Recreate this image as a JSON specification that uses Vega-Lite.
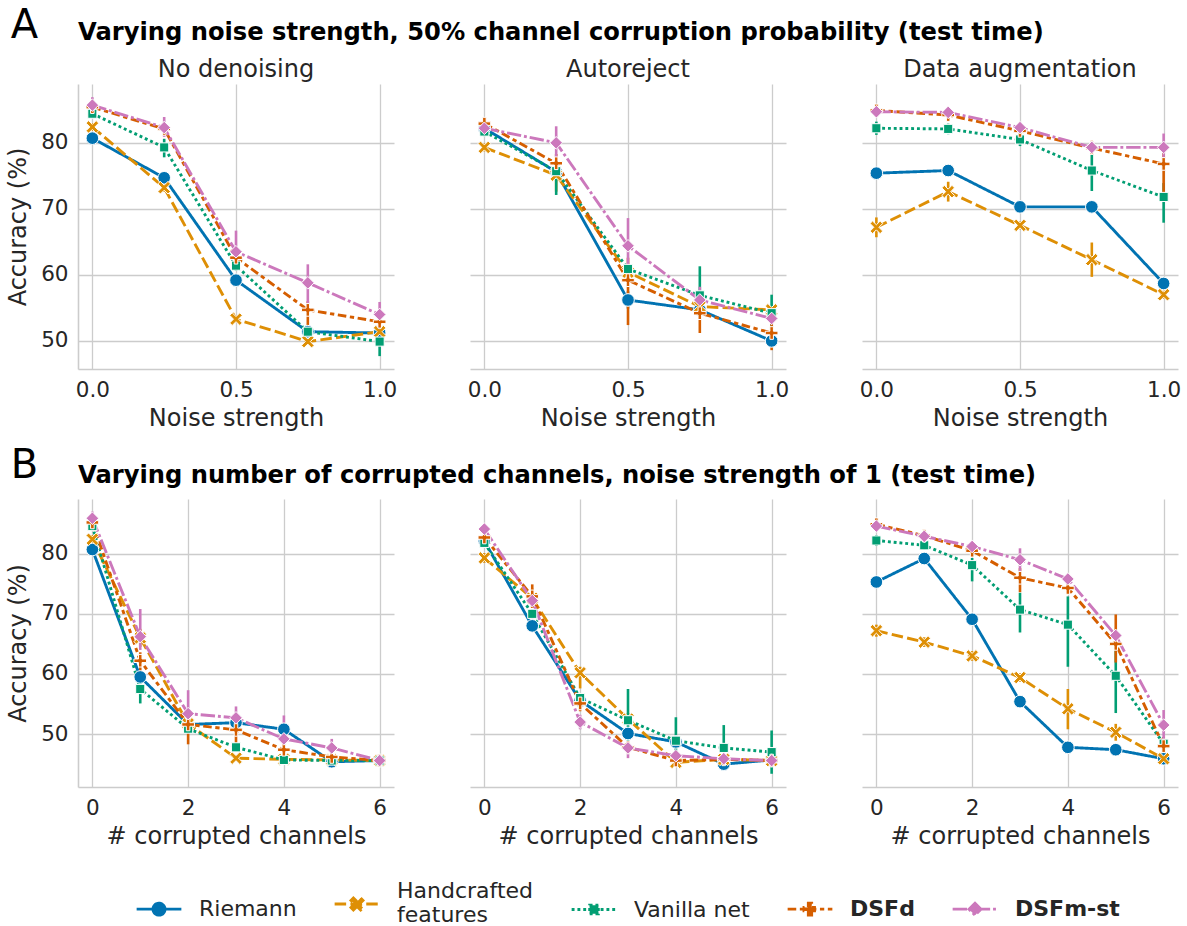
{
"$schema":"https://vega.github.io/schema/vega-lite/v6.json",
"padding":{"left":6,"top":5,"right":5,"bottom":5},
"spacing":14,
"config":{
 "font":"DejaVu Sans",
 "view":{"stroke":null},
 "axis":{"grid":true,"gridColor":"#cccccc","gridWidth":1.3,"domainColor":"#cccccc","domainWidth":1.6,"ticks":false,"labelFontSize":21.5,"labelColor":"#262626","titleFontSize":24,"titleColor":"#262626","titleFontWeight":"normal","labelPadding":10,"labelFont":"DejaVu Sans","titleFont":"DejaVu Sans"},
 "axisX":{"titlePadding":6},
 "axisY":{"titlePadding":10},
 "header":{"labelFont":"DejaVu Sans"},
 "title":{"font":"DejaVu Sans"},
 "legend":{"labelFont":"DejaVu Sans","titleFont":"DejaVu Sans","layout":{"bottom":{"anchor":"middle"}}}
},
"datasets":{
"a":[
{"panel":"No denoising","model":"Riemann","x":0,"acc":80.7,"lo":80.2,"hi":81.2},
{"panel":"No denoising","model":"Riemann","x":0.25,"acc":74.7,"lo":74.2,"hi":75.2},
{"panel":"No denoising","model":"Riemann","x":0.5,"acc":59.2,"lo":58.6,"hi":59.8},
{"panel":"No denoising","model":"Riemann","x":0.75,"acc":51.4,"lo":51.0,"hi":51.9},
{"panel":"No denoising","model":"Riemann","x":1,"acc":51.2,"lo":50.8,"hi":51.6},
{"panel":"No denoising","model":"Handcrafted features","x":0,"acc":82.4,"lo":81.8,"hi":83.0},
{"panel":"No denoising","model":"Handcrafted features","x":0.25,"acc":73.2,"lo":72.6,"hi":73.8},
{"panel":"No denoising","model":"Handcrafted features","x":0.5,"acc":53.3,"lo":52.8,"hi":53.8},
{"panel":"No denoising","model":"Handcrafted features","x":0.75,"acc":49.9,"lo":49.5,"hi":50.3},
{"panel":"No denoising","model":"Handcrafted features","x":1,"acc":51.4,"lo":50.9,"hi":51.9},
{"panel":"No denoising","model":"Vanilla net","x":0,"acc":84.4,"lo":83.8,"hi":85.0},
{"panel":"No denoising","model":"Vanilla net","x":0.25,"acc":79.3,"lo":77.8,"hi":80.6},
{"panel":"No denoising","model":"Vanilla net","x":0.5,"acc":61.4,"lo":60.6,"hi":62.2},
{"panel":"No denoising","model":"Vanilla net","x":0.75,"acc":51.4,"lo":50.8,"hi":52.0},
{"panel":"No denoising","model":"Vanilla net","x":1,"acc":49.9,"lo":47.7,"hi":51.3},
{"panel":"No denoising","model":"DSFd","x":0,"acc":85.4,"lo":84.9,"hi":85.9},
{"panel":"No denoising","model":"DSFd","x":0.25,"acc":82.1,"lo":81.4,"hi":82.8},
{"panel":"No denoising","model":"DSFd","x":0.5,"acc":62.6,"lo":61.8,"hi":63.4},
{"panel":"No denoising","model":"DSFd","x":0.75,"acc":54.7,"lo":52.2,"hi":56.0},
{"panel":"No denoising","model":"DSFd","x":1,"acc":52.9,"lo":52.3,"hi":53.5},
{"panel":"No denoising","model":"DSFm-st","x":0,"acc":85.7,"lo":84.6,"hi":86.9},
{"panel":"No denoising","model":"DSFm-st","x":0.25,"acc":82.3,"lo":80.9,"hi":83.9},
{"panel":"No denoising","model":"DSFm-st","x":0.5,"acc":63.5,"lo":61.0,"hi":66.7},
{"panel":"No denoising","model":"DSFm-st","x":0.75,"acc":58.8,"lo":55.6,"hi":61.6},
{"panel":"No denoising","model":"DSFm-st","x":1,"acc":54.0,"lo":52.0,"hi":55.9},
{"panel":"Autoreject","model":"Riemann","x":0,"acc":82.2,"lo":81.5,"hi":82.9},
{"panel":"Autoreject","model":"Riemann","x":0.25,"acc":75.6,"lo":74.8,"hi":76.4},
{"panel":"Autoreject","model":"Riemann","x":0.5,"acc":56.2,"lo":54.9,"hi":57.5},
{"panel":"Autoreject","model":"Riemann","x":0.75,"acc":54.7,"lo":54.2,"hi":55.2},
{"panel":"Autoreject","model":"Riemann","x":1,"acc":50.0,"lo":49.2,"hi":50.6},
{"panel":"Autoreject","model":"Handcrafted features","x":0,"acc":79.3,"lo":78.7,"hi":79.9},
{"panel":"Autoreject","model":"Handcrafted features","x":0.25,"acc":75.1,"lo":72.6,"hi":76.5},
{"panel":"Autoreject","model":"Handcrafted features","x":0.5,"acc":60.4,"lo":59.6,"hi":61.2},
{"panel":"Autoreject","model":"Handcrafted features","x":0.75,"acc":55.2,"lo":54.6,"hi":55.8},
{"panel":"Autoreject","model":"Handcrafted features","x":1,"acc":54.7,"lo":54.1,"hi":55.3},
{"panel":"Autoreject","model":"Vanilla net","x":0,"acc":81.7,"lo":81.0,"hi":82.4},
{"panel":"Autoreject","model":"Vanilla net","x":0.25,"acc":75.7,"lo":72.1,"hi":77.2},
{"panel":"Autoreject","model":"Vanilla net","x":0.5,"acc":60.9,"lo":60.1,"hi":61.7},
{"panel":"Autoreject","model":"Vanilla net","x":0.75,"acc":56.9,"lo":53.2,"hi":61.3},
{"panel":"Autoreject","model":"Vanilla net","x":1,"acc":54.2,"lo":51.5,"hi":57.0},
{"panel":"Autoreject","model":"DSFd","x":0,"acc":82.9,"lo":82.1,"hi":83.7},
{"panel":"Autoreject","model":"DSFd","x":0.25,"acc":76.9,"lo":75.5,"hi":78.3},
{"panel":"Autoreject","model":"DSFd","x":0.5,"acc":59.2,"lo":52.4,"hi":62.6},
{"panel":"Autoreject","model":"DSFd","x":0.75,"acc":54.2,"lo":51.2,"hi":57.2},
{"panel":"Autoreject","model":"DSFd","x":1,"acc":51.2,"lo":48.6,"hi":53.2},
{"panel":"Autoreject","model":"DSFm-st","x":0,"acc":82.2,"lo":81.4,"hi":83.0},
{"panel":"Autoreject","model":"DSFm-st","x":0.25,"acc":80.0,"lo":77.5,"hi":82.5},
{"panel":"Autoreject","model":"DSFm-st","x":0.5,"acc":64.4,"lo":60.2,"hi":68.6},
{"panel":"Autoreject","model":"DSFm-st","x":0.75,"acc":56.2,"lo":54.2,"hi":58.2},
{"panel":"Autoreject","model":"DSFm-st","x":1,"acc":53.4,"lo":52.6,"hi":54.2},
{"panel":"Data augmentation","model":"Riemann","x":0,"acc":75.4,"lo":75.0,"hi":75.8},
{"panel":"Data augmentation","model":"Riemann","x":0.25,"acc":75.8,"lo":75.4,"hi":76.2},
{"panel":"Data augmentation","model":"Riemann","x":0.5,"acc":70.3,"lo":69.9,"hi":70.7},
{"panel":"Data augmentation","model":"Riemann","x":0.75,"acc":70.3,"lo":69.9,"hi":70.7},
{"panel":"Data augmentation","model":"Riemann","x":1,"acc":58.7,"lo":58.2,"hi":59.2},
{"panel":"Data augmentation","model":"Handcrafted features","x":0,"acc":67.2,"lo":65.7,"hi":68.7},
{"panel":"Data augmentation","model":"Handcrafted features","x":0.25,"acc":72.6,"lo":71.1,"hi":74.1},
{"panel":"Data augmentation","model":"Handcrafted features","x":0.5,"acc":67.5,"lo":66.9,"hi":68.1},
{"panel":"Data augmentation","model":"Handcrafted features","x":0.75,"acc":62.3,"lo":59.7,"hi":64.9},
{"panel":"Data augmentation","model":"Handcrafted features","x":1,"acc":57.0,"lo":56.4,"hi":57.6},
{"panel":"Data augmentation","model":"Vanilla net","x":0,"acc":82.2,"lo":81.2,"hi":83.2},
{"panel":"Data augmentation","model":"Vanilla net","x":0.25,"acc":82.1,"lo":81.3,"hi":82.9},
{"panel":"Data augmentation","model":"Vanilla net","x":0.5,"acc":80.5,"lo":79.5,"hi":81.5},
{"panel":"Data augmentation","model":"Vanilla net","x":0.75,"acc":75.8,"lo":72.7,"hi":78.9},
{"panel":"Data augmentation","model":"Vanilla net","x":1,"acc":71.8,"lo":67.9,"hi":73.9},
{"panel":"Data augmentation","model":"DSFd","x":0,"acc":84.9,"lo":84.2,"hi":85.6},
{"panel":"Data augmentation","model":"DSFd","x":0.25,"acc":84.2,"lo":83.4,"hi":85.0},
{"panel":"Data augmentation","model":"DSFd","x":0.5,"acc":81.8,"lo":81.0,"hi":82.6},
{"panel":"Data augmentation","model":"DSFd","x":0.75,"acc":79.2,"lo":78.2,"hi":80.3},
{"panel":"Data augmentation","model":"DSFd","x":1,"acc":76.8,"lo":72.0,"hi":79.2},
{"panel":"Data augmentation","model":"DSFm-st","x":0,"acc":84.7,"lo":84.0,"hi":85.4},
{"panel":"Data augmentation","model":"DSFm-st","x":0.25,"acc":84.6,"lo":83.9,"hi":85.3},
{"panel":"Data augmentation","model":"DSFm-st","x":0.5,"acc":82.3,"lo":81.5,"hi":83.1},
{"panel":"Data augmentation","model":"DSFm-st","x":0.75,"acc":79.3,"lo":78.4,"hi":80.2},
{"panel":"Data augmentation","model":"DSFm-st","x":1,"acc":79.3,"lo":77.1,"hi":81.4}
],
"b":[
{"panel":"No denoising","model":"Riemann","x":0,"acc":80.7,"lo":80.0,"hi":81.4},
{"panel":"No denoising","model":"Riemann","x":1,"acc":59.5,"lo":58.5,"hi":60.5},
{"panel":"No denoising","model":"Riemann","x":2,"acc":51.6,"lo":51.0,"hi":52.2},
{"panel":"No denoising","model":"Riemann","x":3,"acc":51.9,"lo":51.2,"hi":52.6},
{"panel":"No denoising","model":"Riemann","x":4,"acc":50.8,"lo":50.0,"hi":51.6},
{"panel":"No denoising","model":"Riemann","x":5,"acc":45.4,"lo":45.0,"hi":45.8},
{"panel":"No denoising","model":"Riemann","x":6,"acc":45.6,"lo":45.3,"hi":45.9},
{"panel":"No denoising","model":"Handcrafted features","x":0,"acc":82.4,"lo":81.7,"hi":83.1},
{"panel":"No denoising","model":"Handcrafted features","x":1,"acc":66.0,"lo":64.5,"hi":67.5},
{"panel":"No denoising","model":"Handcrafted features","x":2,"acc":51.7,"lo":50.5,"hi":53.0},
{"panel":"No denoising","model":"Handcrafted features","x":3,"acc":46.0,"lo":45.6,"hi":46.4},
{"panel":"No denoising","model":"Handcrafted features","x":4,"acc":45.8,"lo":45.4,"hi":46.2},
{"panel":"No denoising","model":"Handcrafted features","x":5,"acc":45.7,"lo":45.3,"hi":46.1},
{"panel":"No denoising","model":"Handcrafted features","x":6,"acc":45.6,"lo":45.3,"hi":45.9},
{"panel":"No denoising","model":"Vanilla net","x":0,"acc":84.6,"lo":83.8,"hi":85.4},
{"panel":"No denoising","model":"Vanilla net","x":1,"acc":57.5,"lo":55.1,"hi":59.0},
{"panel":"No denoising","model":"Vanilla net","x":2,"acc":50.9,"lo":50.2,"hi":51.6},
{"panel":"No denoising","model":"Vanilla net","x":3,"acc":47.8,"lo":47.2,"hi":48.4},
{"panel":"No denoising","model":"Vanilla net","x":4,"acc":45.7,"lo":45.3,"hi":46.1},
{"panel":"No denoising","model":"Vanilla net","x":5,"acc":45.6,"lo":45.2,"hi":46.0},
{"panel":"No denoising","model":"Vanilla net","x":6,"acc":45.6,"lo":45.3,"hi":45.9},
{"panel":"No denoising","model":"DSFd","x":0,"acc":85.2,"lo":84.5,"hi":85.9},
{"panel":"No denoising","model":"DSFd","x":1,"acc":62.2,"lo":60.5,"hi":63.6},
{"panel":"No denoising","model":"DSFd","x":2,"acc":51.6,"lo":48.3,"hi":52.8},
{"panel":"No denoising","model":"DSFd","x":3,"acc":50.7,"lo":48.3,"hi":52.1},
{"panel":"No denoising","model":"DSFd","x":4,"acc":47.4,"lo":46.8,"hi":48.0},
{"panel":"No denoising","model":"DSFd","x":5,"acc":46.2,"lo":45.7,"hi":46.7},
{"panel":"No denoising","model":"DSFd","x":6,"acc":45.6,"lo":45.3,"hi":45.9},
{"panel":"No denoising","model":"DSFm-st","x":0,"acc":85.9,"lo":84.7,"hi":87.0},
{"panel":"No denoising","model":"DSFm-st","x":1,"acc":66.2,"lo":64.0,"hi":70.8},
{"panel":"No denoising","model":"DSFm-st","x":2,"acc":53.4,"lo":51.8,"hi":57.3},
{"panel":"No denoising","model":"DSFm-st","x":3,"acc":52.7,"lo":51.2,"hi":54.6},
{"panel":"No denoising","model":"DSFm-st","x":4,"acc":49.2,"lo":47.8,"hi":53.1},
{"panel":"No denoising","model":"DSFm-st","x":5,"acc":47.7,"lo":46.5,"hi":49.2},
{"panel":"No denoising","model":"DSFm-st","x":6,"acc":45.6,"lo":45.3,"hi":45.9},
{"panel":"Autoreject","model":"Riemann","x":0,"acc":82.1,"lo":81.3,"hi":82.9},
{"panel":"Autoreject","model":"Riemann","x":1,"acc":68.0,"lo":67.2,"hi":68.8},
{"panel":"Autoreject","model":"Riemann","x":2,"acc":55.6,"lo":54.8,"hi":56.4},
{"panel":"Autoreject","model":"Riemann","x":3,"acc":50.1,"lo":49.4,"hi":50.8},
{"panel":"Autoreject","model":"Riemann","x":4,"acc":48.7,"lo":48.0,"hi":49.4},
{"panel":"Autoreject","model":"Riemann","x":5,"acc":45.0,"lo":44.5,"hi":45.5},
{"panel":"Autoreject","model":"Riemann","x":6,"acc":45.7,"lo":45.3,"hi":46.1},
{"panel":"Autoreject","model":"Handcrafted features","x":0,"acc":79.3,"lo":78.5,"hi":80.1},
{"panel":"Autoreject","model":"Handcrafted features","x":1,"acc":72.6,"lo":71.0,"hi":74.2},
{"panel":"Autoreject","model":"Handcrafted features","x":2,"acc":60.2,"lo":57.6,"hi":61.2},
{"panel":"Autoreject","model":"Handcrafted features","x":3,"acc":52.5,"lo":51.5,"hi":53.5},
{"panel":"Autoreject","model":"Handcrafted features","x":4,"acc":45.3,"lo":44.8,"hi":45.8},
{"panel":"Autoreject","model":"Handcrafted features","x":5,"acc":45.8,"lo":45.3,"hi":46.3},
{"panel":"Autoreject","model":"Handcrafted features","x":6,"acc":45.6,"lo":45.2,"hi":46.0},
{"panel":"Autoreject","model":"Vanilla net","x":0,"acc":81.8,"lo":81.0,"hi":82.6},
{"panel":"Autoreject","model":"Vanilla net","x":1,"acc":70.0,"lo":69.2,"hi":70.8},
{"panel":"Autoreject","model":"Vanilla net","x":2,"acc":56.0,"lo":55.2,"hi":56.8},
{"panel":"Autoreject","model":"Vanilla net","x":3,"acc":52.3,"lo":47.9,"hi":57.5},
{"panel":"Autoreject","model":"Vanilla net","x":4,"acc":48.9,"lo":45.6,"hi":52.8},
{"panel":"Autoreject","model":"Vanilla net","x":5,"acc":47.7,"lo":44.5,"hi":51.5},
{"panel":"Autoreject","model":"Vanilla net","x":6,"acc":47.0,"lo":43.4,"hi":50.6},
{"panel":"Autoreject","model":"DSFd","x":0,"acc":82.7,"lo":81.8,"hi":83.6},
{"panel":"Autoreject","model":"DSFd","x":1,"acc":72.9,"lo":71.0,"hi":74.9},
{"panel":"Autoreject","model":"DSFd","x":2,"acc":55.1,"lo":53.8,"hi":56.4},
{"panel":"Autoreject","model":"DSFd","x":3,"acc":47.8,"lo":47.0,"hi":48.6},
{"panel":"Autoreject","model":"DSFd","x":4,"acc":45.6,"lo":45.1,"hi":46.1},
{"panel":"Autoreject","model":"DSFd","x":5,"acc":45.8,"lo":45.3,"hi":46.3},
{"panel":"Autoreject","model":"DSFd","x":6,"acc":45.6,"lo":45.2,"hi":46.0},
{"panel":"Autoreject","model":"DSFm-st","x":0,"acc":84.1,"lo":83.3,"hi":84.9},
{"panel":"Autoreject","model":"DSFm-st","x":1,"acc":72.2,"lo":71.2,"hi":73.2},
{"panel":"Autoreject","model":"DSFm-st","x":2,"acc":52.0,"lo":50.8,"hi":53.2},
{"panel":"Autoreject","model":"DSFm-st","x":3,"acc":47.7,"lo":46.0,"hi":48.4},
{"panel":"Autoreject","model":"DSFm-st","x":4,"acc":46.4,"lo":45.8,"hi":47.0},
{"panel":"Autoreject","model":"DSFm-st","x":5,"acc":45.9,"lo":45.3,"hi":46.5},
{"panel":"Autoreject","model":"DSFm-st","x":6,"acc":45.6,"lo":45.2,"hi":46.0},
{"panel":"Data augmentation","model":"Riemann","x":0,"acc":75.3,"lo":74.8,"hi":75.8},
{"panel":"Data augmentation","model":"Riemann","x":1,"acc":79.2,"lo":78.7,"hi":79.7},
{"panel":"Data augmentation","model":"Riemann","x":2,"acc":69.1,"lo":68.6,"hi":69.6},
{"panel":"Data augmentation","model":"Riemann","x":3,"acc":55.4,"lo":54.9,"hi":55.9},
{"panel":"Data augmentation","model":"Riemann","x":4,"acc":47.8,"lo":47.3,"hi":48.3},
{"panel":"Data augmentation","model":"Riemann","x":5,"acc":47.4,"lo":46.9,"hi":47.9},
{"panel":"Data augmentation","model":"Riemann","x":6,"acc":45.9,"lo":45.5,"hi":46.3},
{"panel":"Data augmentation","model":"Handcrafted features","x":0,"acc":67.2,"lo":66.2,"hi":68.2},
{"panel":"Data augmentation","model":"Handcrafted features","x":1,"acc":65.3,"lo":64.5,"hi":66.1},
{"panel":"Data augmentation","model":"Handcrafted features","x":2,"acc":63.0,"lo":62.2,"hi":63.8},
{"panel":"Data augmentation","model":"Handcrafted features","x":3,"acc":59.4,"lo":58.7,"hi":60.1},
{"panel":"Data augmentation","model":"Handcrafted features","x":4,"acc":54.2,"lo":50.8,"hi":57.5},
{"panel":"Data augmentation","model":"Handcrafted features","x":5,"acc":50.3,"lo":48.9,"hi":51.7},
{"panel":"Data augmentation","model":"Handcrafted features","x":6,"acc":45.9,"lo":45.3,"hi":46.5},
{"panel":"Data augmentation","model":"Vanilla net","x":0,"acc":82.2,"lo":81.3,"hi":83.1},
{"panel":"Data augmentation","model":"Vanilla net","x":1,"acc":81.4,"lo":80.7,"hi":82.1},
{"panel":"Data augmentation","model":"Vanilla net","x":2,"acc":78.1,"lo":75.4,"hi":79.3},
{"panel":"Data augmentation","model":"Vanilla net","x":3,"acc":70.7,"lo":66.9,"hi":73.5},
{"panel":"Data augmentation","model":"Vanilla net","x":4,"acc":68.2,"lo":61.2,"hi":72.9},
{"panel":"Data augmentation","model":"Vanilla net","x":5,"acc":59.7,"lo":53.5,"hi":66.2},
{"panel":"Data augmentation","model":"Vanilla net","x":6,"acc":48.4,"lo":45.2,"hi":49.5},
{"panel":"Data augmentation","model":"DSFd","x":0,"acc":84.9,"lo":84.2,"hi":85.6},
{"panel":"Data augmentation","model":"DSFd","x":1,"acc":83.0,"lo":82.3,"hi":83.7},
{"panel":"Data augmentation","model":"DSFd","x":2,"acc":80.5,"lo":79.7,"hi":81.3},
{"panel":"Data augmentation","model":"DSFd","x":3,"acc":76.0,"lo":73.6,"hi":77.6},
{"panel":"Data augmentation","model":"DSFd","x":4,"acc":74.3,"lo":73.5,"hi":75.1},
{"panel":"Data augmentation","model":"DSFd","x":5,"acc":65.0,"lo":61.9,"hi":69.9},
{"panel":"Data augmentation","model":"DSFd","x":6,"acc":48.0,"lo":46.7,"hi":49.5},
{"panel":"Data augmentation","model":"DSFm-st","x":0,"acc":84.6,"lo":83.9,"hi":85.3},
{"panel":"Data augmentation","model":"DSFm-st","x":1,"acc":82.9,"lo":82.2,"hi":83.6},
{"panel":"Data augmentation","model":"DSFm-st","x":2,"acc":81.2,"lo":80.5,"hi":81.9},
{"panel":"Data augmentation","model":"DSFm-st","x":3,"acc":79.0,"lo":77.0,"hi":80.9},
{"panel":"Data augmentation","model":"DSFm-st","x":4,"acc":75.8,"lo":75.0,"hi":76.6},
{"panel":"Data augmentation","model":"DSFm-st","x":5,"acc":66.4,"lo":65.6,"hi":67.2},
{"panel":"Data augmentation","model":"DSFm-st","x":6,"acc":51.5,"lo":49.0,"hi":54.0}
]
},
"vconcat":[
{
 "title":{"text":"A","anchor":"start","frame":"bounds","fontSize":40,"fontWeight":"normal","color":"#000000","offset":0,"dy":25,"dx":4},
 "vconcat":[{
  "data":{"name":"a"},
  "title":{"text":"Varying noise strength, 50% channel corruption probability (test time)","anchor":"start","frame":"group","fontSize":24.2,"fontWeight":"bold","color":"#000000","offset":13},
  "facet":{"column":{"field":"panel","type":"nominal","sort":["No denoising","Autoreject","Data augmentation"],"header":{"title":null,"labelFontSize":24,"labelColor":"#262626","labelPadding":2}}},
  "spacing":76,
  "spec":{
   "width":316,"height":285,
   "encoding":{
    "x":{"field":"x","type":"quantitative","scale":{"domain":[-0.05,1.05],"nice":false,"zero":false},"axis":{"values":[0,0.5,1],"format":".1f","title":"Noise strength"}},
    "color":{"field":"model","type":"nominal","scale":{"domain":["Riemann","Handcrafted features","Vanilla net","DSFd","DSFm-st"],"range":["#0173b2","#de8f05","#029e73","#d55e00","#cc78bc"]},
     "legend":{"orient":"bottom","direction":"horizontal","title":" ","titleOrient":"left","titlePadding":67,"titleFontSize":22,"labelFontSize":22,"labelColor":"#262626","symbolSize":2000,"symbolStrokeWidth":2.8,"symbolOpacity":1,"columnPadding":32,"labelOffset":16,"offset":31,
      "labelExpr":"datum.value == 'Handcrafted features' ? ['Handcrafted','features'] : datum.label",
      "labelBaseline":{"expr":"datum.value == 'Handcrafted features' ? 'line-bottom' : 'middle'"},
      "symbolType":{"expr":"datum.value == 'Riemann' ? 'M-1,0H1M0.27,0A0.27,0.27,0,1,1,-0.27,0A0.27,0.27,0,1,1,0.27,0Z' : datum.value == 'Handcrafted features' ? 'M-1,0H1M-0.162,0.27L0,0.108L0.162,0.27L0.27,0.162L0.108,0L0.27,-0.162L0.162,-0.27L0,-0.108L-0.162,-0.27L-0.27,-0.162L-0.108,0L-0.27,0.162Z' : datum.value == 'Vanilla net' ? 'M-1,0H1M-0.195,-0.195H0.195V0.195H-0.195Z' : datum.value == 'DSFd' ? 'M-1,0H1M0.076,0.27V0.076H0.27V-0.076H0.076V-0.27H-0.076V-0.076H-0.27V0.076H-0.076V0.27Z' : 'M-1,0H1M0,-0.27L0.27,0L0,0.27L-0.27,0Z'"},
      "symbolDash":{"expr":"datum.value == 'Riemann' ? [1,0] : datum.value == 'Handcrafted features' ? [11.5,4.3] : datum.value == 'Vanilla net' ? [2.9,2.9] : datum.value == 'DSFd' ? [8.6,3.6,4.3,3.6] : [14.4,2.9,2.9,2.9]"},
      "labelFontWeight":{"expr":"datum.value == 'DSFd' || datum.value == 'DSFm-st' ? 'bold' : 'normal'"}
     }
    }
   },
   "layer":[
    {"mark":{"type":"rule","strokeWidth":2.6},"encoding":{"y":{"field":"lo","type":"quantitative","scale":{"domain":[45.75,88.9],"nice":false,"zero":false},"axis":{"values":[50,60,70,80],"title":"Accuracy (%)"}},"y2":{"field":"hi"}}},
    {"mark":{"type":"line","strokeWidth":2.9},"encoding":{"y":{"field":"acc","type":"quantitative","axis":{"values":[50,60,70,80],"title":"Accuracy (%)"}},
      "strokeDash":{"field":"model","type":"nominal","scale":{"domain":["Handcrafted features","Riemann","Vanilla net","DSFd","DSFm-st"],"range":[[11.5,4.3],[1,0],[2.9,2.9],[8.6,3.6,4.3,3.6],[14.4,2.9,2.9,2.9]]},"legend":null}}},
    {"mark":{"type":"point","filled":true,"size":160,"opacity":1,"stroke":"white","strokeWidth":1},"encoding":{"y":{"field":"acc","type":"quantitative","axis":{"values":[50,60,70,80],"title":"Accuracy (%)"}},
      "shape":{"field":"model","type":"nominal","scale":{"domain":["Riemann","Handcrafted features","Vanilla net","DSFm-st","DSFd"],"range":["circle","M-0.6,1L0,0.4L0.6,1L1,0.6L0.4,0L1,-0.6L0.6,-1L0,-0.4L-0.6,-1L-1,-0.6L-0.4,0L-1,0.6Z","M-0.72,-0.72H0.72V0.72H-0.72Z","M0,-1L1,0L0,1L-1,0Z","M0.28,1V0.28H1V-0.28H0.28V-1H-0.28V-0.28H-1V0.28H-0.28V1Z"]},"legend":null}}}
   ]
  }
 }]
},
{
 "title":{"text":"B","anchor":"start","frame":"bounds","fontSize":40,"fontWeight":"normal","color":"#000000","offset":0,"dy":22,"dx":4},
 "vconcat":[{
  "data":{"name":"b"},
  "title":{"text":"Varying number of corrupted channels, noise strength of 1 (test time)","anchor":"start","frame":"group","fontSize":24.2,"fontWeight":"bold","color":"#000000","offset":11},
  "facet":{"column":{"field":"panel","type":"nominal","sort":["No denoising","Autoreject","Data augmentation"],"header":{"title":null,"labels":false}}},
  "spacing":76,
  "spec":{
   "width":316,"height":288,
   "encoding":{
    "x":{"field":"x","type":"quantitative","scale":{"domain":[-0.3,6.3],"nice":false,"zero":false},"axis":{"values":[0,2,4,6],"format":"d","title":"# corrupted channels"}},
    "color":{"field":"model","type":"nominal","scale":{"domain":["Riemann","Handcrafted features","Vanilla net","DSFd","DSFm-st"],"range":["#0173b2","#de8f05","#029e73","#d55e00","#cc78bc"]},
     "legend":{"orient":"bottom","direction":"horizontal","title":" ","titleOrient":"left","titlePadding":67,"titleFontSize":22,"labelFontSize":22,"labelColor":"#262626","symbolSize":2000,"symbolStrokeWidth":2.8,"symbolOpacity":1,"columnPadding":32,"labelOffset":16,"offset":31,
      "labelExpr":"datum.value == 'Handcrafted features' ? ['Handcrafted','features'] : datum.label",
      "labelBaseline":{"expr":"datum.value == 'Handcrafted features' ? 'line-bottom' : 'middle'"},
      "symbolType":{"expr":"datum.value == 'Riemann' ? 'M-1,0H1M0.27,0A0.27,0.27,0,1,1,-0.27,0A0.27,0.27,0,1,1,0.27,0Z' : datum.value == 'Handcrafted features' ? 'M-1,0H1M-0.162,0.27L0,0.108L0.162,0.27L0.27,0.162L0.108,0L0.27,-0.162L0.162,-0.27L0,-0.108L-0.162,-0.27L-0.27,-0.162L-0.108,0L-0.27,0.162Z' : datum.value == 'Vanilla net' ? 'M-1,0H1M-0.195,-0.195H0.195V0.195H-0.195Z' : datum.value == 'DSFd' ? 'M-1,0H1M0.076,0.27V0.076H0.27V-0.076H0.076V-0.27H-0.076V-0.076H-0.27V0.076H-0.076V0.27Z' : 'M-1,0H1M0,-0.27L0.27,0L0,0.27L-0.27,0Z'"},
      "symbolDash":{"expr":"datum.value == 'Riemann' ? [1,0] : datum.value == 'Handcrafted features' ? [11.5,4.3] : datum.value == 'Vanilla net' ? [2.9,2.9] : datum.value == 'DSFd' ? [8.6,3.6,4.3,3.6] : [14.4,2.9,2.9,2.9]"},
      "labelFontWeight":{"expr":"datum.value == 'DSFd' || datum.value == 'DSFm-st' ? 'bold' : 'normal'"}
     }
    }
   },
   "layer":[
    {"mark":{"type":"rule","strokeWidth":2.6},"encoding":{"y":{"field":"lo","type":"quantitative","scale":{"domain":[41.2,89.1],"nice":false,"zero":false},"axis":{"values":[50,60,70,80],"title":"Accuracy (%)"}},"y2":{"field":"hi"}}},
    {"mark":{"type":"line","strokeWidth":2.9},"encoding":{"y":{"field":"acc","type":"quantitative","axis":{"values":[50,60,70,80],"title":"Accuracy (%)"}},
      "strokeDash":{"field":"model","type":"nominal","scale":{"domain":["Handcrafted features","Riemann","Vanilla net","DSFd","DSFm-st"],"range":[[11.5,4.3],[1,0],[2.9,2.9],[8.6,3.6,4.3,3.6],[14.4,2.9,2.9,2.9]]},"legend":null}}},
    {"mark":{"type":"point","filled":true,"size":160,"opacity":1,"stroke":"white","strokeWidth":1},"encoding":{"y":{"field":"acc","type":"quantitative","axis":{"values":[50,60,70,80],"title":"Accuracy (%)"}},
      "shape":{"field":"model","type":"nominal","scale":{"domain":["Riemann","Handcrafted features","Vanilla net","DSFm-st","DSFd"],"range":["circle","M-0.6,1L0,0.4L0.6,1L1,0.6L0.4,0L1,-0.6L0.6,-1L0,-0.4L-0.6,-1L-1,-0.6L-0.4,0L-1,0.6Z","M-0.72,-0.72H0.72V0.72H-0.72Z","M0,-1L1,0L0,1L-1,0Z","M0.28,1V0.28H1V-0.28H0.28V-1H-0.28V-0.28H-1V0.28H-0.28V1Z"]},"legend":null}}}
   ]
  }
 }]
}
]
}
